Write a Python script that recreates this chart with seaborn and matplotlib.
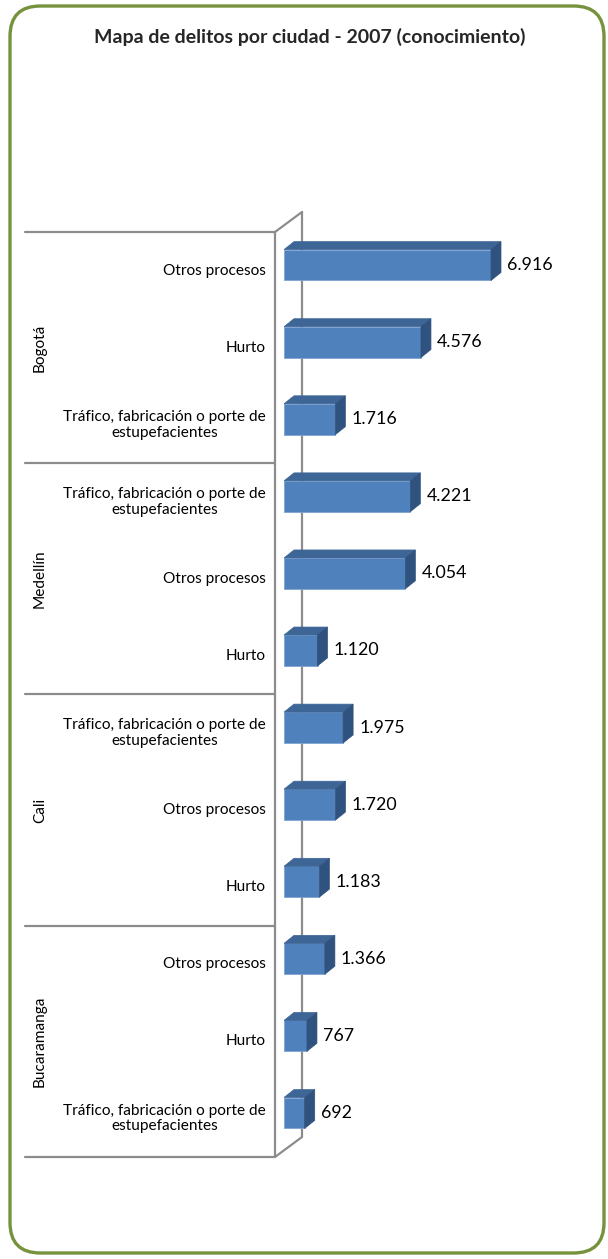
"""Mapa de delitos por ciudad - 2007 (conocimiento): 3D-style grouped horizontal bars."""

import matplotlib

matplotlib.use("Agg")
import matplotlib.pyplot as plt
import matplotlib.transforms as mtransforms
import pandas as pd
import seaborn as sns
from matplotlib.patches import FancyBboxPatch, Polygon

CITIES = ["Bogotá", "Medellín", "Cali", "Bucaramanga"]
TRAFICO = "Tráfico, fabricación o porte de\nestupefacientes"
CRIMES = [
    ["Otros procesos", "Hurto", TRAFICO],
    [TRAFICO, "Otros procesos", "Hurto"],
    [TRAFICO, "Otros procesos", "Hurto"],
    ["Otros procesos", "Hurto", TRAFICO],
]
VALUES = [
    [6916, 4576, 1716],
    [4221, 4054, 1120],
    [1975, 1720, 1183],
    [1366, 767, 692],
]

W, H, DPI = 608, 1259, 100
FONT = ["Lato", "DejaVu Sans"]
FRONT, TOP, SIDE = "#4F81BD", "#3D6596", "#30527E"
GRID = "#8C8C8C"

rows = []
for city, crimes, values in zip(CITIES, CRIMES, VALUES):
    for crime, value in zip(crimes, values):
        rows.append({"key": f"{city}|{crime}", "city": city, "crime": crime, "value": value})
table = pd.DataFrame(rows)

sns.set_theme(style="white")
plt.rcParams["font.family"] = FONT

fig = plt.figure(figsize=(W / DPI, H / DPI), dpi=DPI)

# plot band in pixels: value 0 at x=284, categories between y=232 and y=1157
x0_px, x1_px, top_px, bot_px = 284, 600, 232, 1157
ax = fig.add_axes([x0_px / W, 1 - bot_px / H, (x1_px - x0_px) / W, (bot_px - top_px) / H])
px_per_unit = 207 / 6916
ax.set_xlim(0, (x1_px - x0_px) / px_per_unit)

sns.barplot(data=table, x="value", y="key", color=FRONT, width=0.4, saturation=1,
            edgecolor="#7FA3D3", linewidth=0.6, ax=ax, zorder=3)
ax.set_ylim(len(table) - 0.5, -0.5)
ax.set_xlabel("")
ax.set_ylabel("")
ax.set_xticks([])
ax.set_yticks([])
for spine in ax.spines.values():
    spine.set_visible(False)
ax.patch.set_alpha(0)

band_px = (bot_px - top_px) / len(table)
shift = 5.5 / band_px            # front face sits a bit above the band centre
dx = 10 / px_per_unit            # depth offset of the extrusion
dy = 8 / band_px

for patch, value in zip(ax.patches, table["value"]):
    patch.set_y(patch.get_y() - shift)
    xa, xb = patch.get_x(), patch.get_x() + patch.get_width()
    ya, yb = patch.get_y(), patch.get_y() + patch.get_height()
    ax.add_patch(Polygon([(xa, ya), (xb, ya), (xb + dx, ya - dy), (xa + dx, ya - dy)],
                         closed=True, facecolor=TOP, edgecolor=TOP, linewidth=0.5, zorder=3))
    ax.add_patch(Polygon([(xb, ya), (xb + dx, ya - dy), (xb + dx, yb - dy), (xb, yb)],
                         closed=True, facecolor=SIDE, edgecolor=SIDE, linewidth=0.5, zorder=3))
    ax.text(xb + dx + 6 / px_per_unit, (ya + yb) / 2, f"{value:,}".replace(",", "."),
            ha="left", va="center", fontsize=12.8, color="black", family=FONT)

# walls, separators and labels live in figure-x / data-y coordinates
blend = mtransforms.blended_transform_factory(fig.transFigure, ax.transData)
n = len(table)
back = 20 / band_px
front_x, back_x = 275 / W, 302 / W
wall = dict(color=GRID, linewidth=1.6, transform=blend, clip_on=False)
ax.plot([back_x, back_x], [-0.5 - back, n - 0.5 - back], zorder=1, **wall)
ax.plot([front_x, back_x], [-0.5, -0.5 - back], zorder=1, **wall)
ax.plot([front_x, back_x], [n - 0.5, n - 0.5 - back], zorder=1, **wall)
ax.plot([front_x, front_x], [-0.5, n - 0.5], zorder=4, **wall)
for k in range(len(CITIES) + 1):
    ax.plot([25 / W, front_x], [3 * k - 0.5] * 2, zorder=4, **wall)

for i, crime in enumerate(table["crime"]):
    ax.text(266 / W, i, crime, transform=blend, ha="right", va="center",
            multialignment="center", fontsize=11.1, color="black", family=FONT,
            linespacing=1.15)
for k, city in enumerate(CITIES):
    ax.text(40 / W, 3 * k + 1, city, transform=blend, ha="center", va="center",
            rotation=90, fontsize=11.1, color="black", family=FONT)

fig.text(310 / W, 1 - 37 / H, "Mapa de delitos por ciudad - 2007 (conocimiento)",
         ha="center", va="center", fontsize=14, fontweight="bold", family=FONT)

fig.patches.append(FancyBboxPatch((10 / W, 6 / H), 594 / W, 1247 / H,
                                  boxstyle="round,pad=0,rounding_size=0.05",
                                  transform=fig.transFigure, facecolor="none",
                                  edgecolor="#76923C", linewidth=2.4, mutation_aspect=W / H))

fig.savefig("out.png", dpi=DPI)
plt.close(fig)
